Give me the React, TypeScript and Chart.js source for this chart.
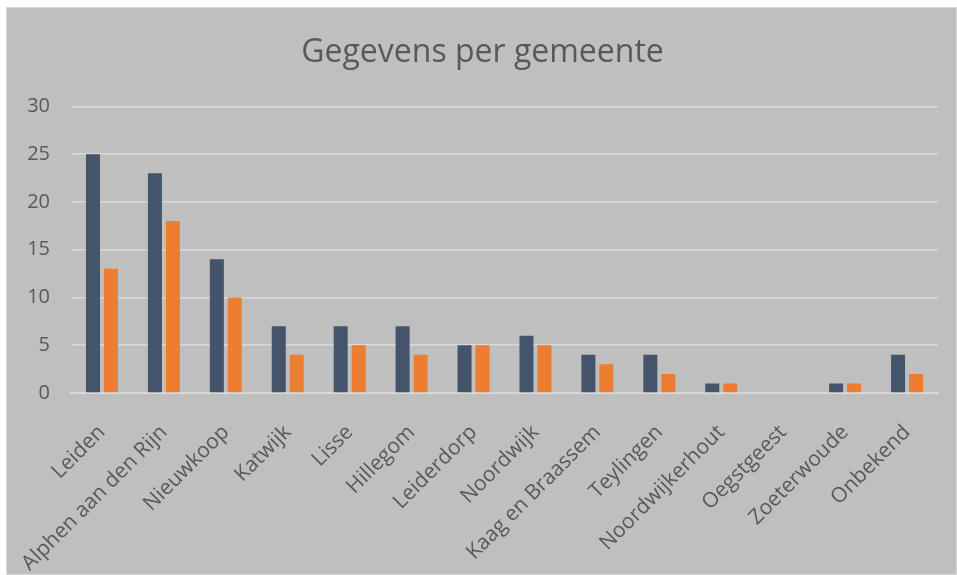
import React, { useEffect, useRef } from "react";
import { Chart, registerables } from "chart.js";

Chart.register(...registerables);

const categories = [
  "Leiden",
  "Alphen aan den Rijn",
  "Nieuwkoop",
  "Katwijk",
  "Lisse",
  "Hillegom",
  "Leiderdorp",
  "Noordwijk",
  "Kaag en Braassem",
  "Teylingen",
  "Noordwijkerhout",
  "Oegstgeest",
  "Zoeterwoude",
  "Onbekend",
];
const seriesA = [25, 23, 14, 7, 7, 7, 5, 6, 4, 4, 1, 0, 1, 4];
const seriesB = [13, 18, 10, 4, 5, 4, 5, 5, 3, 2, 1, 0, 1, 2];
const yTicks = [0, 5, 10, 15, 20, 25, 30];

const FONT = "'Open Sans', 'Liberation Sans', sans-serif";

export default function App() {
  const ref = useRef<HTMLCanvasElement | null>(null);
  useEffect(() => {
    if (!ref.current) return;
    const chart = new Chart(ref.current, {
      type: "bar",
      data: {
        labels: categories,
        datasets: [
          { label: "A", data: seriesA, backgroundColor: "#44546A", categoryPercentage: 0.58, barPercentage: 0.78 },
          { label: "B", data: seriesB, backgroundColor: "#ED7D31", categoryPercentage: 0.58, barPercentage: 0.78 },
        ],
      },
      options: {
        animation: false,
        responsive: false,
        maintainAspectRatio: false,
        layout: { padding: { left: 20, right: 18, top: 0, bottom: 0 } },
        plugins: {
          legend: { display: false },
          tooltip: { enabled: false },
          title: {
            display: true,
            text: "Gegevens per gemeente",
            color: "#595959",
            font: { family: FONT, size: 32, weight: "normal" },
            padding: { top: 26, bottom: 34 },
          },
        },
        scales: {
          y: {
            min: 0,
            max: 30,
            afterBuildTicks: (axis: any) => {
              axis.ticks = yTicks.map((v) => ({ value: v }));
            },
            afterFit: (scale: any) => {
              scale.width = 44;
            },
            ticks: { color: "#595959", font: { family: FONT, size: 20 }, padding: 21 },
            grid: { color: "#D9D9D9", lineWidth: 1.5, drawTicks: false },
            border: { display: false },
          },
          x: {
            afterFit: (scale: any) => {
              scale.paddingLeft = 0;
              scale.height = 181;
            },
            ticks: {
              color: "#595959",
              font: { family: FONT, size: 21 },
              minRotation: 45,
              maxRotation: 45,
              autoSkip: false,
              padding: 19,
            },
            grid: { display: false },
            border: { display: true, color: "#D9D9D9", width: 2 },
          },
        },
      },
    });
    return () => chart.destroy();
  }, []);
  return (
    <div
      style={{
        position: "absolute",
        left: 6,
        top: 7,
        width: 949,
        height: 566,
        background: "#BFBFBF",
        border: "1px solid #D9D9D9",
      }}
    >
      <canvas ref={ref} width={949} height={566} style={{ display: "block" }} />
    </div>
  );
}
